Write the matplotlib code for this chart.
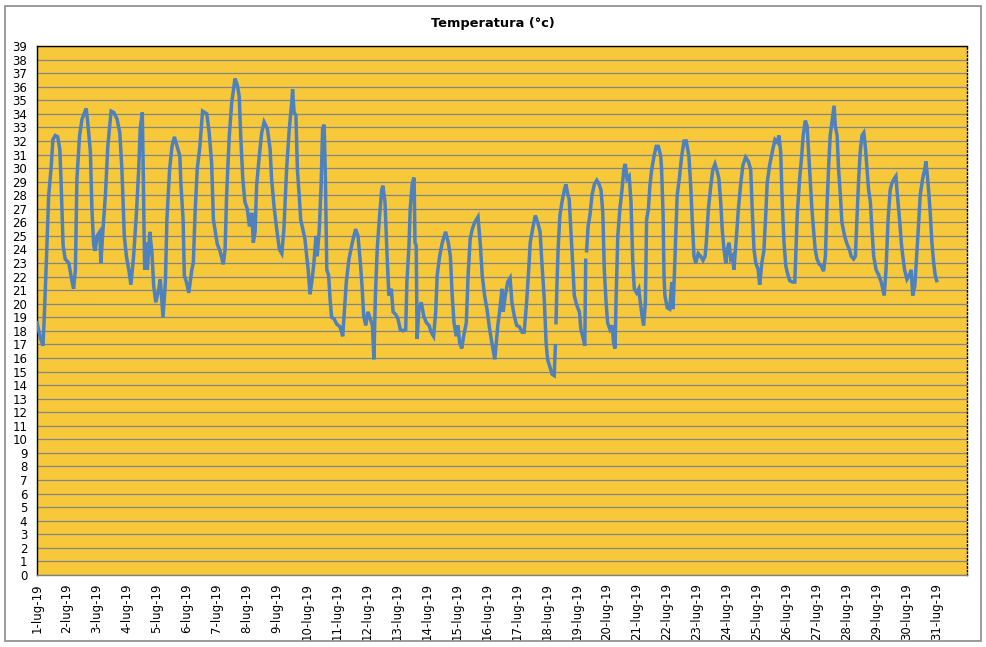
import datetime as dt
import numpy as np
import matplotlib
matplotlib.use("Agg")
import matplotlib.pyplot as plt
import matplotlib.dates as mdates
from matplotlib.ticker import FuncFormatter, MultipleLocator
from matplotlib.patches import Rectangle

# time in days from 1 July 2019 00:00, temperature in degrees C (NaN = missing reading)
day_offset = [
    0.00, 0.11, 0.20, 0.24, 0.31, 0.39, 0.47, 0.53, 0.61, 0.69, 0.76, 0.80, 0.87, 0.94,
    1.06, 1.17, 1.22, 1.28, 1.33, 1.42, 1.50, 1.64, 1.69, 1.78, 1.83, 1.89, 1.94,
    2.00, 2.09, 2.13, 2.20, 2.28, 2.36, 2.47, 2.56, 2.67, 2.76, 2.83, 2.91, 2.98,
    3.06, 3.13, 3.22, 3.31, 3.39, 3.44, 3.51, 3.54, 3.57, 3.59, 3.63, 3.68, 3.76, 3.83, 3.89, 3.96,
    4.06, 4.11, 4.20, 4.28, 4.33, 4.42, 4.50, 4.58, 4.67, 4.76, 4.80, 4.87, 4.91, 4.98,
    5.06, 5.16, 5.21, 5.27, 5.34, 5.43, 5.52, 5.66, 5.74, 5.82, 5.88, 5.93,
    6.01, 6.10, 6.21, 6.27, 6.32, 6.41, 6.49, 6.60, 6.68, 6.74, 6.79, 6.86, 6.93,
    7.01, 7.08, 7.16, 7.21, 7.27, 7.32, 7.41, 7.49, 7.57, 7.68, 7.77, 7.82, 7.90, 7.99,
    8.08, 8.16, 8.23, 8.32, 8.41, 8.49, 8.52, 8.57, 8.63, 8.68, 8.74, 8.79, 8.86, 8.93, 8.99,
    9.04, 9.10, 9.16, 9.23, 9.30, 9.34, 9.41, 9.47, 9.52, 9.57, 9.61, 9.66, 9.72, 9.77, 9.82, 9.90, 9.99,
    10.10, 10.19, 10.31, 10.40, 10.51, 10.62, 10.70, 10.78, 10.84, 10.89, 10.96,
    11.03, 11.11, 11.18, 11.23, 11.28, 11.34, 11.42, 11.49, 11.53, 11.60, 11.67, 11.73, 11.81, 11.87, 11.96,
    12.03, 12.11, 12.20, 12.29, 12.33, 12.40, 12.44, 12.51, 12.57, 12.60, 12.64, 12.67, 12.73, 12.81, 12.89, 12.98,
    13.07, 13.14, 13.22, 13.29, 13.34, 13.42, 13.51, 13.62, 13.71, 13.78, 13.84, 13.90, 13.98,
    14.03, 14.09, 14.16, 14.22, 14.31, 14.37, 14.44, 14.51, 14.59, 14.70, 14.78, 14.84, 14.92,
    15.00, 15.09, 15.18, 15.26, 15.36, 15.43, 15.50, 15.54, 15.61, 15.69, 15.77, 15.83, 15.91, 15.99,
    16.08, 16.17, 16.24, 16.32, 16.39, 16.44, 16.52, 16.61, 16.69, 16.77, 16.83, 16.91, 16.97,
    17.02, 17.10, 17.17, 17.24, 17.28, 17.29, 17.30, 17.33, 17.37, 17.43, 17.50, 17.58, 17.63, 17.69, 17.74,
    17.80, 17.86, 17.91, 17.99,
    18.08, 18.13, 18.19, 18.26, 18.29, 18.30, 18.32, 18.37, 18.43, 18.50, 18.58, 18.66, 18.72, 18.80, 18.86,
    18.91, 18.97,
    19.02, 19.10, 19.17, 19.22, 19.27, 19.30, 19.36, 19.43, 19.50, 19.56, 19.61, 19.67, 19.74, 19.80, 19.86,
    19.91, 19.99,
    20.06, 20.11, 20.17, 20.22, 20.28, 20.32, 20.38, 20.43, 20.49, 20.57, 20.64, 20.71, 20.79, 20.82, 20.87,
    20.90, 20.93,
    21.01, 21.09, 21.16, 21.20, 21.24, 21.29, 21.34, 21.42, 21.49, 21.57, 21.64, 21.73, 21.79, 21.84, 21.90, 21.96,
    22.04, 22.12, 22.20, 22.27, 22.31, 22.38, 22.46, 22.53, 22.60, 22.68, 22.73, 22.79, 22.84, 22.90, 22.96,
    23.01, 23.07, 23.12, 23.18, 23.23, 23.31, 23.38, 23.46, 23.53, 23.62, 23.71, 23.79, 23.84, 23.90, 23.96,
    24.04, 24.09, 24.16, 24.23, 24.29, 24.34, 24.42, 24.51, 24.60, 24.68, 24.73, 24.79, 24.84, 24.90, 24.96,
    25.01, 25.09, 25.18, 25.26, 25.29, 25.34, 25.42, 25.49, 25.54, 25.61, 25.67, 25.72, 25.78, 25.83, 25.89, 25.94,
    26.00, 26.08, 26.14, 26.22, 26.28, 26.33, 26.39, 26.44, 26.50, 26.57, 26.61, 26.67, 26.72, 26.78, 26.83, 26.92,
    27.00, 27.08, 27.14, 27.22, 27.28, 27.33, 27.39, 27.44, 27.50, 27.56, 27.61, 27.67, 27.72, 27.78, 27.83, 27.89, 27.97,
    28.06, 28.14, 28.19, 28.24, 28.30, 28.37, 28.44, 28.50, 28.57, 28.63, 28.68, 28.72, 28.76, 28.81, 28.86, 28.92,
    29.00, 29.08, 29.14, 29.19, 29.26, 29.33, 29.39, 29.44, 29.52, 29.59, 29.63, 29.68, 29.72, 29.78, 29.83, 29.89,
    29.94, 29.99,
]

temp = [
    18.6, 17.5, 16.9, 18.9, 23.0, 28.0, 30.0, 32.1, 32.4, 32.3, 31.4, 29.2, 24.3, 23.3,
    23.0, 21.6, 21.1, 22.5, 29.2, 32.4, 33.6, 34.4, 33.4, 31.2, 27.0, 24.3, 23.9,
    25.0, 25.3, 23.0, 25.5, 28.0, 31.6, 34.2, 34.1, 33.6, 32.6, 29.9, 25.0, 23.5,
    22.5, 21.4, 23.5, 26.5, 29.9, 32.9, 34.1, 30.0, 25.0, 22.5, 24.5, 22.5, 25.3, 23.8, 21.3, 20.1,
    21.1, 21.8, 19.0, 21.6, 26.2, 29.9, 31.6, 32.3, 31.6, 30.9, 28.7, 26.2, 22.1, 21.6,
    20.8, 22.5, 23.0, 26.7, 29.9, 31.6, 34.2, 34.0, 32.6, 30.4, 26.2, 25.5,
    24.4, 23.9, 22.9, 24.0, 28.0, 32.4, 34.8, 36.6, 36.1, 35.3, 32.4, 29.2, 27.5,
    27.0, 25.7, 26.7, 24.5, 25.3, 28.7, 30.9, 32.6, 33.4, 32.9, 31.4, 29.2, 27.2, 25.5,
    24.0, 23.7, 25.5, 29.9, 32.9, 34.8, 35.8, 34.1, 33.9, 29.9, 28.0, 26.2, 25.5, 24.8, 23.5,
    22.5, 20.7, 21.6, 23.0, 25.0, 23.5, 25.5, 28.7, 32.9, 33.2, 29.7, 22.5, 22.1, 20.3, 19.0, 18.9, 18.5,
    18.3, 17.6, 21.6, 23.3, 24.5, 25.5, 25.0, 23.0, 21.1, 19.1, 18.4,
    19.4, 18.9, 18.4, 15.9, 20.6, 24.0, 26.5, 28.4, 28.7, 27.5, 23.5, 20.6, 21.1, 19.4, 19.2,
    18.9, 18.1, 18.0, 18.1, 21.6, 24.3, 27.0, 28.9, 29.3, 24.5, 24.3, 17.4, 19.6, 20.1, 19.1, 18.6,
    18.4, 17.9, 17.6, 19.4, 22.1, 23.5, 24.5, 25.3, 24.5, 23.5, 20.6, 18.6, 17.6,
    18.4, 17.1, 16.7, 17.6, 18.6, 22.1, 24.8, 25.5, 26.0, 26.4, 24.3, 22.1, 20.6,
    19.6, 18.1, 16.9, 15.9, 18.4, 19.6, 21.1, 19.4, 20.6, 21.6, 21.9, 20.1, 19.1, 18.4,
    18.3, 17.9, 17.9, 20.1, 22.5, 24.5, 25.5, 26.5, 26.0, 25.3, 23.0, 20.3, 17.1,
    15.9, 15.3, 14.8, 14.7, 16.9, np.nan, 18.6, 21.3, 24.0, 26.5, 27.5, 28.4, 28.8, 28.1, 27.7,
    25.3, 22.8, 20.6, 19.9,
    19.4, 18.1, 17.6, 16.9, 23.2, np.nan, 23.9, 25.7, 26.5, 28.0, 28.8, 29.1, 28.9, 28.4, 26.7,
    22.5, 20.1,
    18.6, 18.1, 18.4, 17.1, 16.7, 20.1, 25.0, 27.0, 28.4, 29.9, 30.3, 29.2, 29.4, 27.5, 23.0,
    21.1, 20.8,
    21.1, 20.1, 19.1, 18.4, 20.1, 26.2, 27.0, 28.7, 29.9, 30.9, 31.6, 31.6, 30.9, 29.9, 26.5,
    22.1, 20.6,
    19.7, 19.6, 21.6, 19.6, 21.8, 25.0, 28.0, 29.4, 30.9, 32.0, 32.0, 30.9, 28.7, 26.2, 23.5, 23.0,
    23.7, 23.5, 23.2, 23.5, 24.5, 27.0, 28.7, 29.9, 30.3, 29.7, 29.2, 27.5, 25.5, 24.0, 23.0,
    24.0, 24.5, 23.3, 23.5, 22.5, 24.8, 27.0, 28.9, 30.2, 30.8, 30.5, 29.9, 27.0, 24.0, 23.0,
    22.5, 21.4, 23.0, 23.9, 26.5, 28.9, 30.2, 31.2, 32.1, 31.9, 32.4, 31.2, 27.5, 24.5, 22.8,
    22.3, 21.7, 21.6, 21.6, 23.5, 26.5, 29.2, 30.9, 32.4, 33.5, 33.1, 31.2, 28.9, 27.0, 25.3, 24.0,
    23.3, 22.9, 22.8, 22.4, 23.5, 27.0, 30.2, 32.4, 33.4, 34.6, 33.1, 32.4, 29.9, 28.0, 26.0, 25.0,
    24.4, 24.0, 23.5, 23.3, 23.5, 26.2, 29.2, 31.2, 32.4, 32.6, 31.6, 29.9, 28.4, 27.5, 25.5, 23.5, 22.5,
    22.1, 21.6, 21.1, 20.6, 22.5, 26.2, 28.4, 28.9, 29.2, 29.4, 28.0, 27.0, 26.0, 24.5, 23.5, 22.5,
    21.8, 22.1, 22.5, 20.6, 21.3, 23.8, 26.0, 28.0, 29.2, 29.9, 30.5, 29.4, 28.4, 26.5, 24.5, 23.0,
    22.1, 21.7,
]

start = dt.datetime(2019, 7, 1)
tick_days = list(range(1, 32))
y_ticks = list(range(0, 40))


def main():
    times = [start + dt.timedelta(days=d) for d in day_offset]

    fig = plt.figure(figsize=(9.86, 6.47), dpi=100)
    fig.patch.set_facecolor("white")
    ax = fig.add_axes([37 / 986, 72 / 647, 930 / 986, 529 / 647])
    ax.set_facecolor("#F6C83A")

    ax.plot(times, temp, color="#4F81BD", linewidth=2.5, solid_joinstyle="miter", zorder=3)

    ax.set_ylim(0, 39)
    ax.yaxis.set_major_locator(MultipleLocator(1))
    ax.set_yticks(y_ticks)
    ax.grid(axis="y", color="#868686", linewidth=0.9, zorder=1)
    ax.set_axisbelow(True)

    ax.set_xlim(start, start + dt.timedelta(days=31))
    ax.set_xticks([dt.datetime(2019, 7, d) for d in tick_days])
    ax.xaxis.set_major_formatter(
        FuncFormatter(lambda v, pos: f"{mdates.num2date(v).day}-lug-19"))

    ax.tick_params(axis="both", length=0, labelsize=8.5, colors="black")
    ax.tick_params(axis="y", pad=7)
    ax.tick_params(axis="x", pad=6, labelrotation=90)

    for side in ["left", "top", "right", "bottom"]:
        ax.spines[side].set_color("black")
        ax.spines[side].set_linewidth(1.0)
    ax.spines["bottom"].set_color("#808080")
    ax.spines["right"].set_linestyle(":")

    fig.text(0.5, 1 - 23 / 647, "Temperatura (°c)", ha="center", va="center",
             fontsize=9.4, fontweight="bold")

    fig.patches.append(Rectangle((5 / 986, 6 / 647), 976 / 986, 635 / 647,
                                 transform=fig.transFigure, fill=False,
                                 edgecolor="#8A8A8A", linewidth=1.2))

    fig.savefig("out.png", dpi=100)


if __name__ == "__main__":
    main()
